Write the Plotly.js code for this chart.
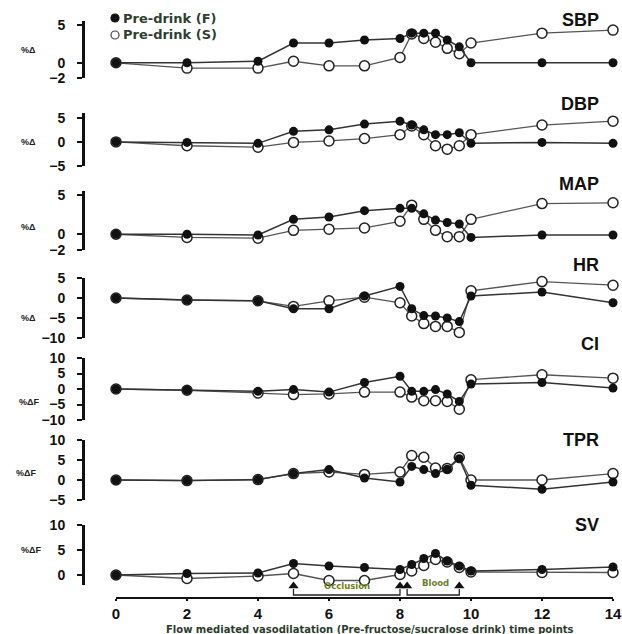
<!DOCTYPE html>
<html>
<head>
<meta charset="utf-8">
<script src="https://cdn.plot.ly/plotly-3.0.1.min.js"></script>
<style>
html,body{margin:0;padding:0;background:#fff;}
#chart{width:622px;height:634px;}
</style>
</head>
<body>
<div id="chart"></div>
<script>
// ---------- data ----------
const timePoints = [0, 2, 4, 5, 6, 7, 8, 8.33, 8.67, 9, 9.33, 9.67, 10, 12, 14];
const xTickVals = [0, 2, 4, 6, 8, 10, 12, 14];
const seriesNames = ['Pre-drink (F)', 'Pre-drink (S)'];
const panelNames = ['SBP', 'DBP', 'MAP', 'HR', 'CI', 'TPR', 'SV'];

const sbpF = [0, 0, 0.2, 2.6, 2.6, 3.0, 3.2, 3.9, 3.9, 3.9, 3.0, 2.1, 0, 0, 0];
const sbpS = [0, -0.7, -0.7, 0.2, -0.4, -0.4, 0.7, 3.8, 3.2, 2.7, 1.9, 1.2, 2.6, 3.9, 4.3];
const dbpF = [0, -0.1, -0.3, 2.2, 2.5, 3.7, 4.3, 3.5, 2.5, 1.5, 1.5, 1.9, -0.3, -0.1, -0.3];
const dbpS = [0, -0.8, -1.1, -0.1, 0.2, 0.7, 1.5, 3.3, 1.5, -0.8, -1.5, -0.8, 1.5, 3.5, 4.3];
const mapF = [0, 0, -0.1, 1.9, 2.2, 3.0, 3.3, 3.3, 2.6, 1.8, 1.5, 1.3, -0.4, -0.1, -0.1];
const mapS = [0, -0.4, -0.5, 0.5, 0.65, 0.8, 1.65, 3.7, 1.9, 0.5, -0.3, -0.3, 1.9, 3.9, 4.0];
const hrF = [0, -0.5, -0.7, -2.7, -2.7, 0.5, 2.9, -2.7, -4.4, -4.5, -5.0, -5.9, 0.5, 1.5, -1.2];
const hrS = [0, -0.5, -0.7, -2.1, -0.7, 0.2, -1.2, -4.5, -6.4, -7.1, -7.1, -8.6, 1.8, 4.1, 3.2];
const ciF = [0, -0.4, -0.75, -0.2, -1.0, 2.1, 4.1, -0.75, -0.75, -0.2, -1.6, -4.0, 1.6, 2.1, 0.3];
const ciS = [0, -0.4, -1.3, -1.8, -1.6, -1.0, -1.0, -2.6, -3.8, -3.8, -4.0, -6.5, 3.0, 4.6, 3.5];
const tprF = [0, -0.15, 0.1, 1.6, 2.6, 0.5, -0.5, 3.4, 2.6, 1.6, 2.7, 5.3, -1.3, -2.3, -0.5];
const tprS = [0, -0.15, 0.1, 1.6, 2.0, 1.4, 2.0, 6.1, 5.7, 3.0, 2.9, 5.7, 0, 0, 1.6];
const svF = [0, 0.3, 0.4, 2.3, 1.8, 1.5, 1.1, 2.1, 3.3, 4.3, 2.8, 1.8, 0.8, 1.1, 1.6];
const svS = [0, -0.7, -0.2, 0.3, -1.1, -1.1, 0.1, 0.8, 1.9, 3.1, 2.6, 1.5, 0.6, 0.5, 0.5];

const yTickVals = {
  SBP: [-2, 0, 5], DBP: [-5, 0, 5], MAP: [-2, 0, 5], HR: [-10, -5, 0, 5],
  CI: [-10, -5, 0, 5, 10], TPR: [-5, 0, 5, 10], SV: [0, 5, 10]
};
const yUnitLabels = ['%Δ', '%Δ', '%Δ', '%Δ', '%ΔF', '%ΔF', '%ΔF'];

// protocol phases (arrows under the SV panel)
const occlusionSpan = [5, 8];
const flowSpan = [8.2, 9.67];
const phaseLabels = ['Occlusion', 'Blood'];

// ---------- layout helpers (pixel -> paper) ----------
const W = 622, H = 634;
const fx = p => p / W;
const fy = p => 1 - p / H;

const panelLayout = [
  {range: [-2, 5.5], top: 21, bot: 78, labY: 20, unitY: 50, unitX: 28},
  {range: [-5, 6], top: 113, bot: 166, labY: 104, unitY: 142, unitX: 28},
  {range: [-2, 5.5], top: 191, bot: 250, labY: 184, unitY: 227, unitX: 28},
  {range: [-10, 5], top: 278, bot: 338, labY: 265, unitY: 318, unitX: 28},
  {range: [-10, 10], top: 358, bot: 420, labY: 344, unitY: 402, unitX: 29},
  {range: [-5, 10], top: 440, bot: 500, labY: 440, unitY: 473, unitX: 26},
  {range: [-2, 10], top: 525, bot: 585, labY: 525, unitY: 550, unitX: 31}
];
const seriesF = [sbpF, dbpF, mapF, hrF, ciF, tprF, svF];
const seriesS = [sbpS, dbpS, mapS, hrS, ciS, tprS, svS];

const xLeft = 116, xRight = 613, yAxisX = 83, xAxisY = 598;
const FONT = 'Liberation Sans, Arial, sans-serif';
const WIDE = 'DejaVu Sans, Verdana, sans-serif';

const traces = [];
const layout = {
  width: W, height: H,
  margin: {l: 0, r: 0, t: 0, b: 0},
  paper_bgcolor: '#fff', plot_bgcolor: 'rgba(0,0,0,0)',
  showlegend: false,
  font: {family: FONT, color: '#111'},
  xaxis: {
    domain: [fx(xLeft), fx(xRight)], range: [0, 14],
    anchor: 'free', position: fy(xAxisY),
    showline: true, linecolor: '#111', linewidth: 2,
    ticks: 'outside', ticklen: 2, tickwidth: 1.5, tickcolor: '#111',
    tickvals: xTickVals, showgrid: false, zeroline: false,
    tickfont: {family: FONT, size: 15, color: '#111', weight: 'bold'}
  },
  annotations: [], shapes: []
};

panelNames.forEach((name, i) => {
  const pl = panelLayout[i];
  const axKey = i === 0 ? 'yaxis' : 'yaxis' + (i + 1);
  const axRef = i === 0 ? 'y' : 'y' + (i + 1);
  layout[axKey] = {
    domain: [fy(pl.bot), fy(pl.top)], range: pl.range,
    anchor: 'free', position: fx(yAxisX),
    showline: true, linecolor: '#111', linewidth: 2.5,
    ticks: 'outside', ticklen: 5, tickwidth: 2, tickcolor: '#111',
    ticklabelstandoff: 9,
    tickvals: yTickVals[name], showgrid: false, zeroline: false,
    tickfont: {family: FONT, size: 14, color: '#111', weight: 'bold'}
  };
  traces.push({
    x: timePoints, y: seriesS[i], xaxis: 'x', yaxis: axRef,
    mode: 'lines+markers', name: seriesNames[1], cliponaxis: false,
    line: {color: '#555', width: 1.3},
    marker: {symbol: 'circle', size: 10, color: '#fff', line: {color: '#222', width: 1.5}}
  });
  traces.push({
    x: timePoints, y: seriesF[i], xaxis: 'x', yaxis: axRef,
    mode: 'lines+markers', name: seriesNames[0], cliponaxis: false,
    line: {color: '#333', width: 1.5},
    marker: {symbol: 'circle', size: 9, color: '#111'}
  });
  layout.annotations.push({
    text: name, xref: 'paper', yref: 'paper', x: fx(601), y: fy(pl.labY),
    xanchor: 'right', yanchor: 'middle', showarrow: false,
    font: {family: FONT, size: 18, color: '#111', weight: 'bold'}
  });
  layout.annotations.push({
    text: yUnitLabels[i], xref: 'paper', yref: 'paper', x: fx(pl.unitX), y: fy(pl.unitY),
    xanchor: 'center', yanchor: 'middle', showarrow: false,
    font: {family: FONT, size: 9, color: '#222', weight: 'bold'}
  });
});

// phase arrows
layout.yaxis8 = {domain: [fy(592), fy(580)], range: [0, 1], anchor: 'free', position: 0, visible: false};
const arrowX = occlusionSpan.concat(flowSpan);
traces.push({
  x: arrowX, y: arrowX.map(() => 0.5), xaxis: 'x', yaxis: 'y8',
  mode: 'markers', cliponaxis: false, hoverinfo: 'skip',
  marker: {symbol: 'triangle-up', size: 9, color: '#111'}
});
[occlusionSpan, flowSpan].forEach((sp, k) => {
  layout.shapes.push({
    type: 'path', xref: 'x', yref: 'paper',
    path: `M ${sp[0]},${fy(589)} L ${sp[0]},${fy(595)} L ${sp[1]},${fy(595)} L ${sp[1]},${fy(589)}`,
    line: {color: '#222', width: 1.3}
  });
  layout.annotations.push({
    text: phaseLabels[k], xref: 'x', yref: 'paper',
    x: k === 0 ? (sp[0] + sp[1]) / 2 : 9.0, y: fy(k === 0 ? 586 : 583),
    xanchor: 'center', yanchor: 'middle', showarrow: false,
    font: {family: WIDE, size: 8.5, color: '#6b7f2a', weight: 'bold'}
  });
});

// legend (drawn manually)
[[18, '#111', '#111'], [35, '#fff', '#444']].forEach((it, k) => {
  layout.shapes.push({
    type: 'circle', xref: 'paper', yref: 'paper',
    x0: fx(111), x1: fx(119), y0: fy(it[0] + 4), y1: fy(it[0] - 4),
    fillcolor: it[1], line: {color: it[2], width: 1.2}
  });
  layout.annotations.push({
    text: seriesNames[k], xref: 'paper', yref: 'paper', x: fx(121), y: fy(it[0]),
    xanchor: 'left', yanchor: 'middle', showarrow: false,
    font: {family: WIDE, size: 13, color: '#2f3f2f', weight: 'bold'}
  });
});

// x axis title
layout.annotations.push({
  text: 'Flow mediated vasodilatation (Pre-fructose/sucralose drink) time points',
  xref: 'paper', yref: 'paper', x: fx(370), y: fy(629),
  xanchor: 'center', yanchor: 'middle', showarrow: false,
  font: {family: WIDE, size: 10, color: '#2a3d2a', weight: 'bold'}
});

Plotly.newPlot('chart', traces, layout, {staticPlot: true, displayModeBar: false});
</script>
</body>
</html>
